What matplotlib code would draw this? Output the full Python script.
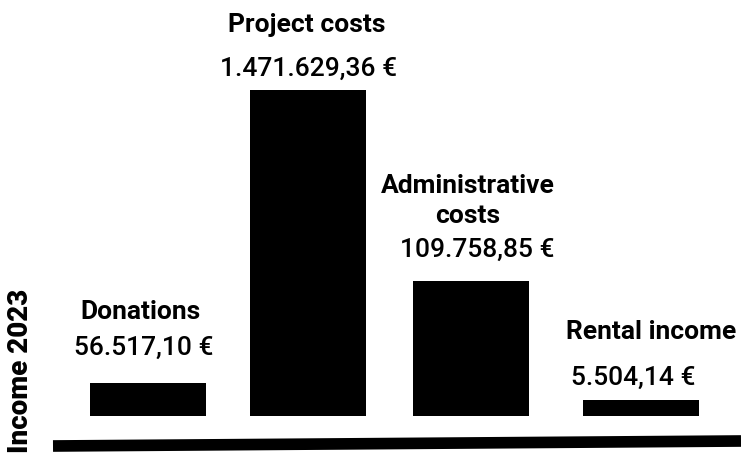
import matplotlib.pyplot as plt
from matplotlib.lines import Line2D

# Data (bar heights are stylised, not to scale)
categories = ['Donations', 'Project costs', 'Administrative\ncosts', 'Rental income']
amounts = ['56.517,10 €', '1.471.629,36 €', '109.758,85 €', '5.504,14 €']
bar_heights = [33, 326, 135, 16]

# Layout (pixel units, axes bottom sits at the bar base)
W, H = 741, 453
base_px = 416
bar_x = [148, 308, 471, 641]
bar_w = 116
# y is the baseline of the last line of each label
name_pos = [(141, 97), (307, 384), (468, 193), (651, 77)]
value_pos = [(144, 61), (309, 340), (477, 159), (633, 31)]

label_font = ['Roboto', 'DejaVu Sans']
fig = plt.figure(figsize=(W / 100, H / 100), dpi=100)
ax = fig.add_axes([0, 1 - base_px / H, 1, base_px / H])
ax.set_xlim(0, W)
ax.set_ylim(0, base_px)
ax.axis('off')

ax.bar(bar_x, bar_heights, width=bar_w, color='black', align='center')

for (nx, ny), name in zip(name_pos, categories):
    ax.text(nx, ny, name, ha='center', va='baseline', fontsize=19,
            fontweight='bold', family=label_font, linespacing=1.3)
for (vx, vy), val in zip(value_pos, amounts):
    ax.text(vx, vy, val, ha='center', va='baseline', fontsize=19,
            fontweight='medium', family=label_font)

# Slanted baseline
fig.add_artist(Line2D([53 / W, 1.0], [1 - 446 / H, 1 - 441 / H],
                      color='black', linewidth=8.4, solid_capstyle='butt',
                      transform=fig.transFigure))

fig.text(21 / W, 1 - 371 / H, 'Income 2023', rotation=90, ha='center', va='center',
         fontsize=20, fontweight='heavy', family=['Roboto', 'DejaVu Sans'])

fig.savefig('out.png', dpi=100, facecolor='white')
